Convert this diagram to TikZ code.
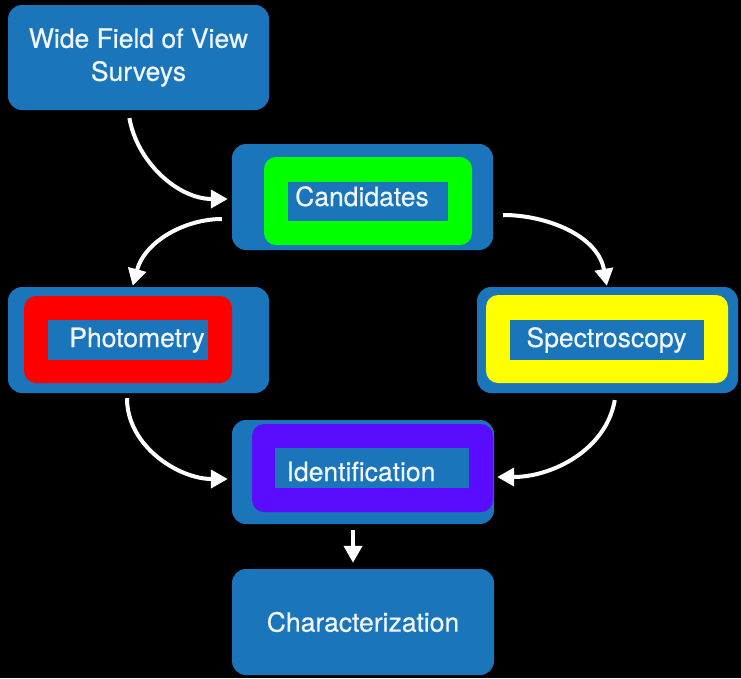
\documentclass[tikz,border=0pt]{standalone}
\usepackage{fontspec}
\setmainfont{TeX Gyre Heros}
\newfontfamily\labelfont[FakeBold=0.5]{TeX Gyre Heros}
\usetikzlibrary{arrows.meta}
\definecolor{boxblue}{RGB}{27,117,187}
\definecolor{candgreen}{RGB}{0,255,0}
\definecolor{photred}{RGB}{255,0,0}
\definecolor{specyellow}{RGB}{255,255,0}
\definecolor{identpurple}{RGB}{90,12,255}
\definecolor{labelwhite}{RGB}{240,246,255}

\begin{document}
\begin{tikzpicture}[
  x=1pt, y=1pt,
  outerbox/.style={rectangle, rounded corners=14pt, fill=boxblue, inner sep=0pt, minimum width=261pt, minimum height=106pt, text=labelwhite, font=\labelfont\fontsize{26.5}{33}\selectfont, align=center},
  framebox/.style={rectangle, rounded corners=12pt, inner sep=0pt, minimum height=88pt},
  panebox/.style={rectangle, fill=boxblue, inner sep=0pt, minimum height=40pt},
  boxlabel/.style={text=labelwhite, font=\labelfont\fontsize{26.5}{31}\selectfont, inner sep=0pt, anchor=base},
  flow/.style={-{Triangle[length=17pt,width=18pt]}, line width=4pt, draw=white}
]
  \fill[black] (0,0) rectangle (741,-678);
  \useasboundingbox (0,0) rectangle (741,-678);

  % outer boxes
  \node[outerbox, minimum height=105pt] (wfov) at (138.5,-57.5) {Wide Field of View\\Surveys};
  \node[outerbox] (cand) at (362.5,-197) {};
  \node[outerbox] (phot) at (138.5,-340) {};
  \node[outerbox] (spec) at (607.5,-340) {};
  \node[outerbox, minimum width=262pt, minimum height=104pt] (ident) at (363,-472) {};
  \node[outerbox, minimum width=262pt] (char) at (363,-622) {Characterization};

  % coloured frames and panes
  \node[framebox, fill=candgreen, minimum width=208pt] (candframe) at (368,-201) {};
  \node[panebox, minimum width=160pt, minimum height=39pt] (candpane) at (368,-201.5) {};
  \node[boxlabel] (candtext) at (362,-206) {Candidates};

  \node[framebox, fill=photred, minimum width=208pt, minimum height=87pt] (photframe) at (128,-339.5) {};
  \node[panebox, minimum width=160pt] (photpane) at (128,-340) {};
  \node[boxlabel] (phottext) at (137,-347) {Photometry};

  \node[framebox, fill=specyellow, minimum width=242pt] (specframe) at (607,-339) {};
  \node[panebox, minimum width=194pt] (specpane) at (607,-340) {};
  \node[boxlabel] (spectext) at (606.5,-347) {Spectroscopy};

  \node[framebox, fill=identpurple, minimum width=241pt] (identframe) at (372.5,-468) {};
  \node[panebox, minimum width=194pt] (identpane) at (372,-468) {};
  \node[boxlabel] (identtext) at (361,-481) {Identification};

  % connectors
  \draw[flow, shorten <=8pt, shorten >=4pt] ([xshift=-10.5pt]wfov.south) to[out=-80, in=180] ([yshift=-2pt]cand.west);
  \draw[flow, shorten <=10pt, shorten >=1pt] ([yshift=-22pt]cand.west) to[out=180, in=75] ([xshift=-6pt]phot.north);
  \draw[flow, shorten <=10pt, shorten >=1pt] ([yshift=-18pt]cand.east) to[out=0, in=100] ([xshift=-0.5pt]spec.north);
  \draw[flow, shorten <=5pt, shorten >=4pt] ([xshift=-11.5pt]phot.south) to[out=-90, in=180] ([yshift=-7pt]ident.west);
  \draw[flow, shorten <=7pt, shorten >=3pt] ([xshift=8.5pt]spec.south) to[out=-100, in=0] ([yshift=-5pt]ident.east);
  \draw[flow, shorten <=6pt, shorten >=6pt] ([xshift=-10pt]ident.south) -- ([xshift=-10pt]char.north);
\end{tikzpicture}
\end{document}
